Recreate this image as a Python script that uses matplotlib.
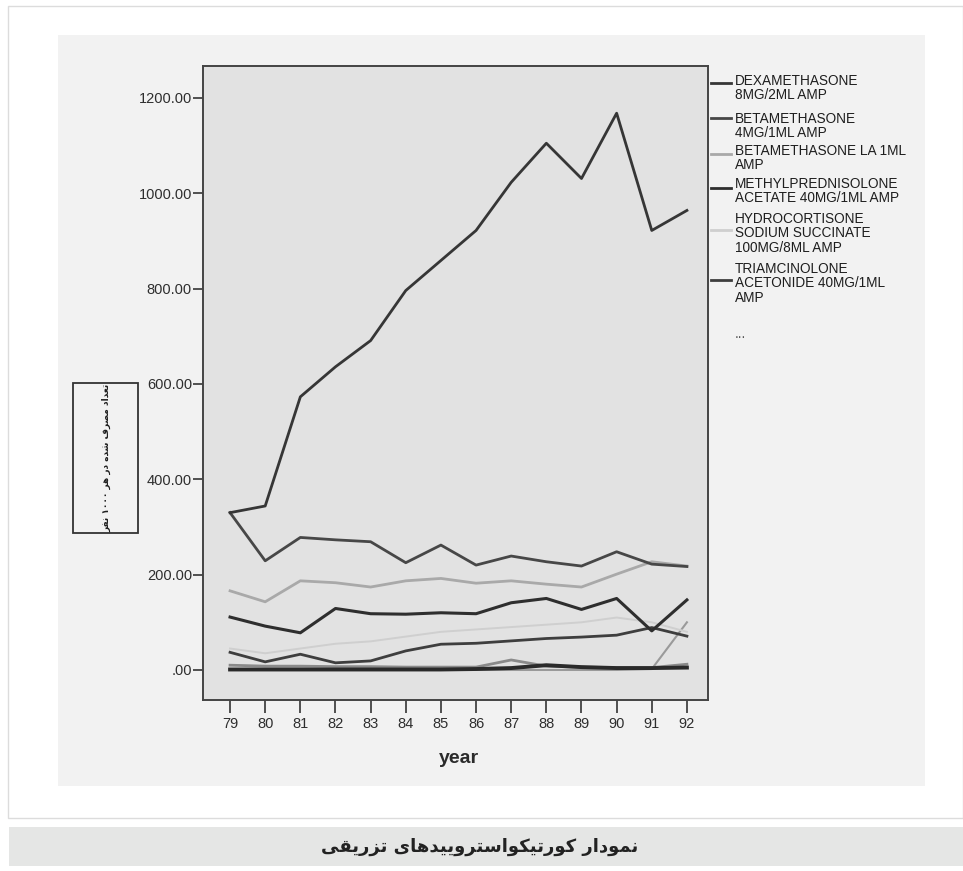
import re
import matplotlib
matplotlib.use('Agg')
import matplotlib.pyplot as plt
from matplotlib import font_manager as fm
from matplotlib.lines import Line2D
from matplotlib.patches import Rectangle

########### data
years = [79, 80, 81, 82, 83, 84, 85, 86, 87, 88, 89, 90, 91, 92]

dexamethasone = [330, 344, 573, 636, 691, 796, 859, 922, 1023, 1105, 1031, 1168, 922, 964]
betamethasone = [330, 229, 278, 273, 269, 225, 262, 220, 239, 227, 218, 248, 222, 217]
betamethasone_la = [166, 143, 187, 183, 174, 187, 192, 182, 187, 180, 174, 201, 227, 218]
methylprednisolone = [111, 92, 78, 129, 118, 117, 120, 118, 141, 150, 127, 150, 82, 147]
hydrocortisone = [45, 35, 45, 55, 60, 70, 80, 85, 90, 95, 100, 110, 100, 80]
triamcinolone = [37, 17, 33, 15, 19, 40, 54, 56, 61, 66, 69, 73, 89, 71]
# the series hidden behind "..."
other_a = [10, 8, 8, 7, 7, 6, 6, 6, 21, 8, 6, 5, 5, 12]
other_b = [1, 1, 1, 1, 1, 1, 1, 2, 4, 10, 6, 4, 4, 5]
other_c = [0, 0, 0, 0, 0, 0, 0, 0, 0, 0, 0, 0, 2, 100]

legend_labels = ['DEXAMETHASONE\n8MG/2ML AMP',
                 'BETAMETHASONE\n4MG/1ML AMP',
                 'BETAMETHASONE LA 1ML\nAMP',
                 'METHYLPREDNISOLONE\nACETATE 40MG/1ML AMP',
                 'HYDROCORTISONE\nSODIUM SUCCINATE\n100MG/8ML AMP',
                 'TRIAMCINOLONE\nACETONIDE 40MG/1ML\nAMP']
y_ticks = [0, 200, 400, 600, 800, 1000, 1200]
y_title = 'تعداد مصرف شده در هر ۱۰۰۰ نفر'
caption = 'نمودار کورتیکواستروییدهای تزریقی'

########### simple persian shaping (matplotlib does not join letters)
FORMS = {
    'ا': ('\uFE8D', '\uFE8E', None, None),
    'ت': ('\uFE95', '\uFE96', '\uFE97', '\uFE98'),
    'د': ('\uFEA9', '\uFEAA', None, None),
    'ر': ('\uFEAD', '\uFEAE', None, None),
    'ز': ('\uFEAF', '\uFEB0', None, None),
    'س': ('\uFEB1', '\uFEB2', '\uFEB3', '\uFEB4'),
    'ش': ('\uFEB5', '\uFEB6', '\uFEB7', '\uFEB8'),
    'ص': ('\uFEB9', '\uFEBA', '\uFEBB', '\uFEBC'),
    'ع': ('\uFEC9', '\uFECA', '\uFECB', '\uFECC'),
    'ف': ('\uFED1', '\uFED2', '\uFED3', '\uFED4'),
    'ق': ('\uFED5', '\uFED6', '\uFED7', '\uFED8'),
    'م': ('\uFEE1', '\uFEE2', '\uFEE3', '\uFEE4'),
    'ن': ('\uFEE5', '\uFEE6', '\uFEE7', '\uFEE8'),
    'ه': ('\uFEE9', '\uFEEA', '\uFEEB', '\uFEEC'),
    'و': ('\uFEED', '\uFEEE', None, None),
    'ک': ('\uFB8E', '\uFB8F', '\uFB90', '\uFB91'),
    'ی': ('\uFBFC', '\uFBFD', '\uFBFE', '\uFBFF'),
}


def shape_fa(s):
    out = []
    for i, c in enumerate(s):
        if c not in FORMS:
            out.append(c)
            continue
        prev = s[i-1] if i > 0 else ''
        nxt = s[i+1] if i+1 < len(s) else ''
        jp = prev in FORMS and FORMS[prev][2] is not None
        jn = FORMS[c][2] is not None and nxt in FORMS
        iso, fin, ini, med = FORMS[c]
        if jp and jn:
            out.append(med)
        elif jp:
            out.append(fin)
        elif jn:
            out.append(ini)
        else:
            out.append(iso)
    vis = ''.join(out)[::-1]
    return re.sub('[\u06F0-\u06F90-9]+', lambda m: m.group(0)[::-1], vis)


names = {f.name for f in fm.fontManager.ttflist}
if 'Liberation Sans Narrow' in names:
    leg_font, leg_size = 'Liberation Sans Narrow', 11.8
else:
    leg_font, leg_size = 'Liberation Sans', 9.8

W, H = 963, 871
def fx(x):
    return x / W
def fy(y):
    return 1 - y / H

fig = plt.figure(figsize=(9.63, 8.71), dpi=100)
fig.patch.set_facecolor('white')

# card, grey panel and caption band
fig.patches.append(Rectangle((fx(8), fy(818)), fx(963) - fx(8), fy(6) - fy(818), transform=fig.transFigure,
                             facecolor='white', edgecolor='#dcdcdc', lw=1, zorder=-3))
fig.patches.append(Rectangle((fx(58), fy(786)), fx(925) - fx(58), fy(35) - fy(786), transform=fig.transFigure,
                             facecolor='#f2f2f2', edgecolor='none', zorder=-2))
fig.patches.append(Rectangle((fx(9), fy(866)), fx(963) - fx(9), fy(827) - fy(866), transform=fig.transFigure,
                             facecolor='#e5e6e5', edgecolor='none', zorder=-2))

############ the chart
ax = fig.add_axes([fx(203), fy(700), fx(708) - fx(203), fy(66) - fy(700)])
ax.set_zorder(2)
ax.set_facecolor('#e2e2e2')

ax.plot(years, other_c, color='#9a9a9a', lw=1.5)
ax.plot(years, other_a, color='#8a8a8a', lw=2.0)
ax.plot(years, other_b, color='#2a2a2a', lw=2.8)
ax.plot(years, hydrocortisone, color='#cfcfcf', lw=1.4)
ax.plot(years, triamcinolone, color='#3e3e3e', lw=2.0)
ax.plot(years, methylprednisolone, color='#2e2e2e', lw=2.2)
ax.plot(years, betamethasone_la, color='#a9a9a9', lw=2.0)
ax.plot(years, betamethasone, color='#474747', lw=2.0)
ax.plot(years, dexamethasone, color='#363636', lw=2.0)

ax.set_xlim(78.23, 92.6)
ax.set_ylim(-63, 1267)
ax.set_xticks(years)
ax.set_xticklabels([str(y) for y in years], fontfamily='Liberation Sans', fontsize=10.5, color='#2e2e2e')
ax.set_yticks(y_ticks)
ax.set_yticklabels(['.00' if v == 0 else '%.2f' % v for v in y_ticks],
                   fontfamily='Liberation Sans', fontsize=10.5, color='#2e2e2e')
ax.tick_params(axis='y', direction='out', length=7, width=1.3, color='#444444', pad=1)
ax.tick_params(axis='x', direction='out', length=9, width=1.3, color='#444444', pad=3)
for sp in ax.spines.values():
    sp.set_color('#444444')
    sp.set_linewidth(1.4)

fig.text(fx(459), fy(758), 'year', ha='center', va='center', fontfamily='Liberation Sans',
         fontweight='bold', fontsize=14, color='#2b2b2b')

############ legend drawn by hand to the right of the chart
sample_y = [83, 118, 154, 188, 230, 280]
first_base = [85, 123, 155, 188, 223, 273]
leg_colors = ['#363636', '#474747', '#a9a9a9', '#2e2e2e', '#cfcfcf', '#3e3e3e']
for lab, sy, by, c in zip(legend_labels, sample_y, first_base, leg_colors):
    fig.lines.append(Line2D([fx(711), fx(731)], [fy(sy), fy(sy)], transform=fig.transFigure,
                            color=c, lw=2.0))
    for k, line in enumerate(lab.split('\n')):
        fig.text(fx(735), fy(by + 14.3 * k), line, ha='left', va='baseline',
                 fontfamily=leg_font, fontsize=leg_size, color='#1e1e1e')
fig.text(fx(735), fy(338), '...', ha='left', va='baseline', fontfamily=leg_font,
         fontsize=leg_size, color='#555555')

############ boxed persian y title
fig.patches.append(Rectangle((fx(73), fy(533)), fx(138) - fx(73), fy(383) - fy(533), transform=fig.transFigure,
                             facecolor='none', edgecolor='#333333', lw=1.3))
fig.text(fx(107), fy(458), shape_fa(y_title), rotation=90, ha='center', va='center',
         fontfamily=['DejaVu Sans'], fontsize=6.5, fontweight='bold', color='#1e1e1e')

############ caption
fig.text(fx(480), fy(847), shape_fa(caption), ha='center', va='center',
         fontfamily=['DejaVu Sans'], fontsize=13, fontweight='bold', color='#222222')

fig.savefig('out.png', dpi=100, facecolor=fig.get_facecolor())
